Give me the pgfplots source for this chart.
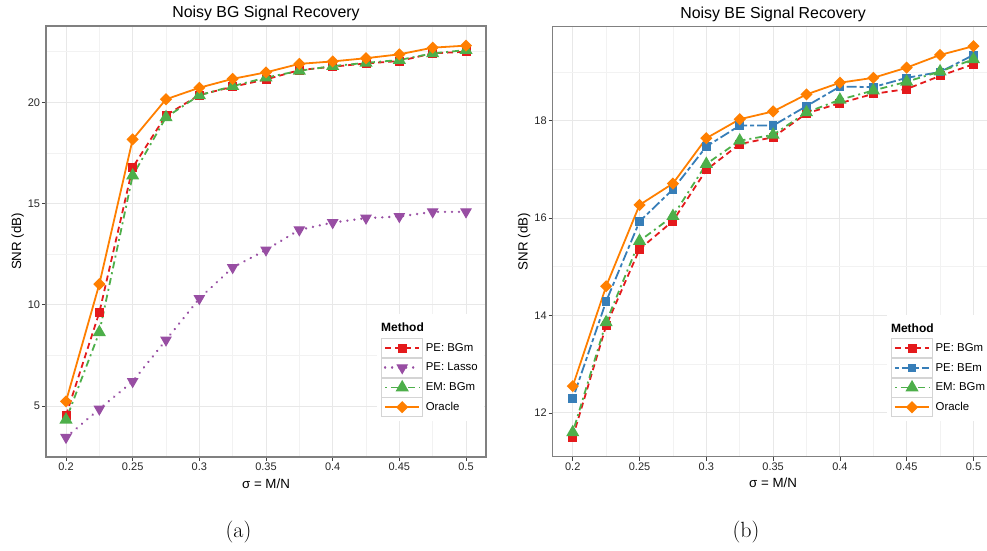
\documentclass[border=0pt]{standalone}
\usepackage{pgfplots}
\usepackage{pgfplotstable}
\pgfplotsset{compat=1.18}
\usepackage{fontspec}
\newfontfamily\arial{Liberation Sans}

\definecolor{cRed}{HTML}{E41A1C}
\definecolor{cBlue}{HTML}{377EB8}
\definecolor{cGreen}{HTML}{4DAF4A}
\definecolor{cPurple}{HTML}{984EA3}
\definecolor{cOrange}{HTML}{FF7F00}

% SNR (dB) versus sampling ratio, Bernoulli-Gaussian signals
\pgfplotstableread{
x     peb    lasso  em     oracle
0.2   4.54   3.45   4.32   5.23
0.225 9.62   4.85   8.64   11.02
0.25  16.78  6.21   16.38  18.17
0.275 19.36  8.26   19.26  20.15
0.3   20.36  10.31  20.35  20.72
0.325 20.77  11.84  20.80  21.16
0.35  21.13  12.71  21.22  21.48
0.375 21.59  13.70  21.56  21.90
0.4   21.76  14.06  21.79  22.02
0.425 21.92  14.28  21.95  22.18
0.45  22.04  14.36  22.09  22.37
0.475 22.42  14.59  22.42  22.70
0.5   22.50  14.59  22.58  22.80
}\bgdata

% SNR (dB) versus sampling ratio, Bernoulli-exponential signals
\pgfplotstableread{
x     peb    pebe   em     oracle
0.2   11.50  12.29  11.60  12.55
0.225 13.79  14.29  13.86  14.60
0.25  15.36  15.93  15.53  16.27
0.275 15.94  16.59  16.04  16.71
0.3   16.99  17.47  17.11  17.64
0.325 17.52  17.90  17.59  18.03
0.35  17.66  17.90  17.71  18.19
0.375 18.15  18.30  18.17  18.54
0.4   18.36  18.70  18.43  18.78
0.425 18.55  18.69  18.62  18.88
0.45  18.65  18.88  18.80  19.09
0.475 18.92  19.00  19.01  19.35
0.5   19.16  19.35  19.26  19.53
}\bedata

\pgfplotsset{
  snrpanel/.style={
    scale only axis,
    xmin=0.185, xmax=0.515,
    axis line style={draw=black!50, line width=1.1pt},
    tick align=outside,
    major tick length=4pt,
    minor tick length=0pt,
    tick style={draw=black!75, line width=0.7pt},
    xtick pos=lower, ytick pos=left,
    xtick={0.2,0.25,0.3,0.35,0.4,0.45,0.5},
    xticklabels={0.2,0.25,0.3,0.35,0.4,0.45,0.5},
    minor xtick={0.225,0.275,0.325,0.375,0.425,0.475},
    grid=both,
    major grid style={draw=black!9, line width=0.9pt},
    minor grid style={draw=black!5, line width=0.6pt},
    /pgf/number format/assume math mode=true,
    ticklabel style={font=\arial\fontsize{11}{12}\selectfont, text=black!85, inner sep=1.8pt},
    label style={font=\arial\fontsize{13.3}{15}\selectfont},
    xlabel={σ = M/N},
    ylabel={SNR (dB)},
    xlabel style={at={(axis description cs:0.5,-0.061)}, anchor=center},
    ylabel style={at={(axis description cs:-0.0646,0.5)}, anchor=center},
    every axis title/.style={at={(axis description cs:0.5,1.0295)}, anchor=center,
      font=\arial\fontsize{15.9}{18}\selectfont},
    legend cell align=left,
    legend style={fill=white, draw=none, inner sep=4pt, anchor=north west,
      row sep=0pt, column sep=0pt,
      font=\arial\fontsize{11.4}{12}\selectfont,
      nodes={inner xsep=2.6pt, inner ysep=0pt, minimum height=19.7pt}},
    legend image code/.code={
      \draw[solid, draw=black!17, line width=0.8pt, fill=none]
        (0pt,-9.45pt) rectangle (41.2pt,9.45pt);
      \draw[mark repeat=2, mark phase=2, #1]
        plot coordinates {(3.5pt,0pt) (20.6pt,0pt) (37.7pt,0pt)};
    },
    every axis plot/.append style={line width=1.8pt},
  },
  redline/.style={cRed, dash pattern=on 6pt off 4pt, mark=square*, mark size=3.6pt, mark options={solid}},
  purpleline/.style={cPurple, line width=2.6pt, line cap=round, dash pattern=on 0.01pt off 7pt, mark=triangle*, mark size=5.8pt, mark options={solid, rotate=180, line width=1pt}},
  blueline/.style={cBlue, dash pattern=on 4pt off 3pt on 10pt off 3pt, mark=square*, mark size=3.4pt, mark options={solid}},
  greenline/.style={cGreen, dash pattern=on 2pt off 4pt on 7pt off 4pt, mark=triangle*, mark size=5.8pt, mark options={solid}},
  orangeline/.style={cOrange, solid, mark=square*, mark size=3.4pt, mark options={solid, rotate=45}},
}

\begin{document}
\begin{tikzpicture}

\begin{axis}[snrpanel,
  at={(46pt,93pt)}, anchor=south west,
  width=440pt, height=431pt,
  ymin=2.48, ymax=23.77,
  ytick={5,10,15,20}, yticklabels={5,10,15,20},
  minor ytick={2.5,7.5,12.5,17.5,22.5},
  title={Noisy BG Signal Recovery},
  legend style={at={(axis description cs:0.7523,0.3311)}},
]
\addlegendimage{empty legend}
\addlegendentry{\makebox[0pt][l]{\hspace{-44.6pt}\bfseries\fontsize{12}{13}\selectfont Method}}
\addplot[redline] table[x=x, y=peb] {\bgdata};
\addlegendentry{PE: BGm}
\addplot[purpleline] table[x=x, y=lasso] {\bgdata};
\addlegendentry{PE: Lasso}
\addplot[greenline] table[x=x, y=em] {\bgdata};
\addlegendentry{EM: BGm}
\addplot[orangeline] table[x=x, y=oracle] {\bgdata};
\addlegendentry{Oracle}
\end{axis}

\begin{axis}[snrpanel,
  at={(552.7pt,93.3pt)}, anchor=south west,
  width=440.8pt, height=430pt,
  ymin=11.10, ymax=19.93,
  ytick={12,14,16,18}, yticklabels={12,14,16,18},
  minor ytick={13,15,17,19},
  title={Noisy BE Signal Recovery},
  legend style={at={(axis description cs:0.758,0.331)}},
]
\addlegendimage{empty legend}
\addlegendentry{\makebox[0pt][l]{\hspace{-44.6pt}\bfseries\fontsize{12}{13}\selectfont Method}}
\addplot[redline] table[x=x, y=peb] {\bedata};
\addlegendentry{PE: BGm}
\addplot[blueline] table[x=x, y=pebe] {\bedata};
\addlegendentry{PE: BEm}
\addplot[greenline] table[x=x, y=em] {\bedata};
\addlegendentry{EM: BGm}
\addplot[orangeline] table[x=x, y=oracle] {\bedata};
\addlegendentry{Oracle}
\end{axis}

\node[font=\fontsize{22}{26}\selectfont] at (238.5pt,18.3pt) {(a)};
\node[font=\fontsize{22}{26}\selectfont] at (746pt,18.3pt) {(b)};

\pgfresetboundingbox
\path[use as bounding box] (0pt,0pt) rectangle (987pt,550pt);
\end{tikzpicture}
\end{document}
